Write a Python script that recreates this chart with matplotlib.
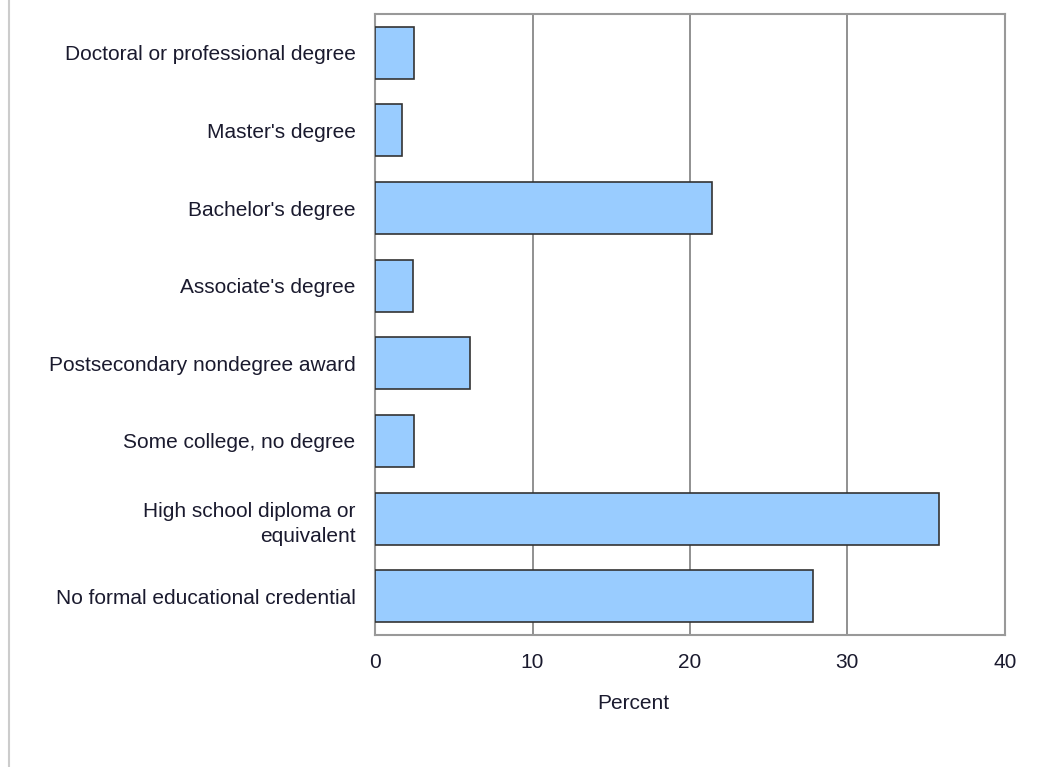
import matplotlib
matplotlib.use('Agg')
import matplotlib.pyplot as plt
from matplotlib.lines import Line2D

categories = [
	'Doctoral or professional degree',
	"Master's degree",
	"Bachelor's degree",
	"Associate's degree",
	'Postsecondary nondegree award',
	'Some college, no degree',
	'High school diploma or\nequivalent',
	'No formal educational credential',
]
percent = [2.5, 1.7, 21.4, 2.4, 6.0, 2.5, 35.8, 27.8]
x_ticks = [0, 10, 20, 30, 40]

plt.rcParams['font.family'] = ['Liberation Sans', 'DejaVu Sans']

fig = plt.figure(figsize=(10.55, 7.67), dpi=100)
ax = fig.add_axes([0.3555, 0.1721, 0.597, 0.8096])

y_pos = list(range(len(categories)))
ax.barh(y_pos, percent, height=0.67, color='#99ccff', edgecolor='#333333', linewidth=1.2, zorder=3)

ax.set_ylim(len(categories) - 0.5, -0.5)
ax.set_xlim(0, 40)
ax.set_xticks(x_ticks)
ax.set_yticks(y_pos)
ax.set_yticklabels(categories, fontsize=15, color='#1a1a2e', linespacing=1.45)
ax.tick_params(axis='x', labelsize=15, length=0, pad=13, colors='#1a1a2e')
ax.tick_params(axis='y', length=0, pad=14)

ax.grid(axis='x', color='#888888', linewidth=1.3, zorder=0)
for side in ['top', 'right', 'bottom', 'left']:
	ax.spines[side].set_color('#999999')
	ax.spines[side].set_linewidth(1.5)

ax.set_xlabel('Percent', fontsize=15, color='#1a1a2e')
ax.xaxis.set_label_coords(0.41, -0.095)

# thin grey frame line at the left edge of the image
fig.add_artist(Line2D([9 / 1055, 9 / 1055], [0, 1], transform=fig.transFigure, color='#cccccc', linewidth=1.5))

fig.savefig('out.png', dpi=100)
